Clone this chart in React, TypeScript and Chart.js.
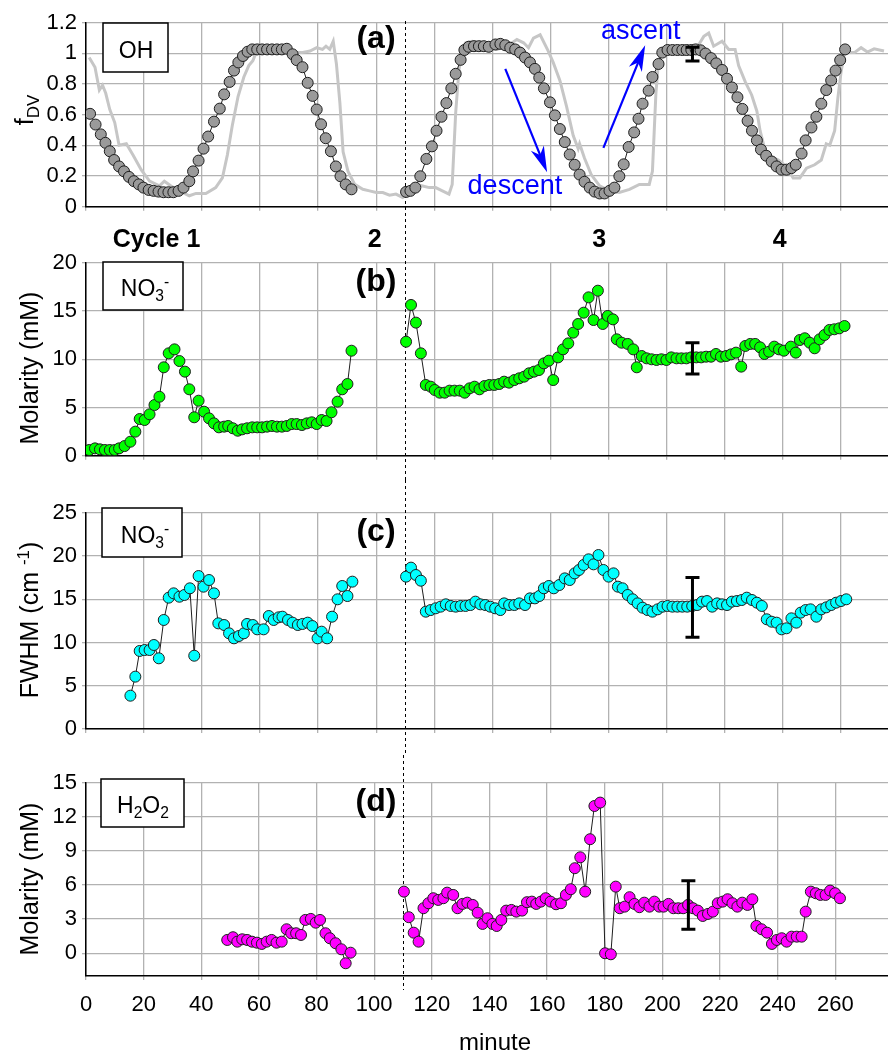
import React, { useEffect, useRef } from 'react';
import { Chart, registerables } from 'chart.js';

Chart.register(...registerables);

// ---------------- DATA ----------------
// (a) OH f_DV, cycle 1
const ohTime1 = [1.4, 3.3, 5.1, 6.7, 8.2, 9.7, 11.4, 13.1, 14.8, 16.5, 18.2, 19.8, 21.6, 23.3, 25.0, 26.7, 28.4, 30.1, 31.9, 33.6, 35.6, 36.9, 38.8, 40.5, 42.1, 44.1, 46.1, 47.6, 49.5, 51.0, 52.5, 54.1, 55.7, 57.3, 59.0, 60.7, 62.4, 64.1, 65.8, 67.5, 69.2, 71.2, 72.6, 74.6, 76.4, 78.1, 79.5, 81.0, 82.6, 84.4, 86.1, 87.7, 89.5, 91.5];
const ohFdv1 = [0.606, 0.536, 0.472, 0.417, 0.362, 0.305, 0.263, 0.231, 0.195, 0.167, 0.146, 0.125, 0.110, 0.104, 0.099, 0.095, 0.095, 0.095, 0.104, 0.125, 0.167, 0.231, 0.301, 0.379, 0.458, 0.555, 0.640, 0.733, 0.814, 0.888, 0.941, 0.983, 1.011, 1.026, 1.026, 1.026, 1.026, 1.026, 1.026, 1.026, 1.03, 0.994, 0.956, 0.910, 0.808, 0.723, 0.634, 0.538, 0.447, 0.362, 0.263, 0.199, 0.146, 0.114];
// (a) OH f_DV, cycles 2-4
const ohTime2 = [110.3, 111.8, 113.5, 115.2, 117.3, 119.2, 120.8, 122.5, 124.2, 125.9, 127.4, 129.1, 130.4, 131.9, 133.7, 135.4, 137.1, 138.8, 141.1, 142.8, 144.5, 146.2, 147.9, 149.6, 151.3, 153.0, 154.7, 156.2, 157.8, 159.9, 161.6, 163.3, 165.0, 166.7, 168.4, 170.1, 171.8, 173.6, 175.3, 177.0, 178.7, 180.4, 182.1, 183.8, 185.3, 187.0, 188.9, 190.4, 191.8, 193.9, 195.2, 197.3, 198.6, 200.4, 202.1, 203.8, 205.5, 207.0, 208.6, 210.1, 211.8, 213.5, 215.4, 217.2, 219.2, 220.9, 222.6, 224.5, 226.2, 228.0, 229.5, 231.2, 232.6, 234.4, 236.3, 238.0, 239.7, 241.4, 243.1, 244.6, 246.6, 248.0, 250.0, 251.7, 253.4, 255.1, 256.8, 258.3, 259.9, 261.6];
const ohFdv2 = [0.097, 0.104, 0.125, 0.199, 0.312, 0.394, 0.496, 0.587, 0.676, 0.772, 0.867, 0.958, 1.022, 1.043, 1.047, 1.047, 1.047, 1.043, 1.058, 1.062, 1.053, 1.037, 1.026, 1.005, 0.973, 0.941, 0.899, 0.842, 0.772, 0.681, 0.596, 0.507, 0.422, 0.341, 0.274, 0.210, 0.163, 0.125, 0.099, 0.087, 0.087, 0.104, 0.125, 0.199, 0.277, 0.390, 0.485, 0.574, 0.672, 0.757, 0.846, 0.931, 1.005, 1.022, 1.022, 1.022, 1.022, 1.022, 1.022, 1.026, 1.020, 0.999, 0.969, 0.935, 0.892, 0.835, 0.778, 0.714, 0.638, 0.560, 0.496, 0.433, 0.373, 0.333, 0.295, 0.263, 0.242, 0.242, 0.252, 0.274, 0.347, 0.433, 0.517, 0.587, 0.672, 0.761, 0.824, 0.888, 0.956, 1.026];
// (a) light grey reference trace
const refTime = [1.1, 3.1, 4.6, 5.7, 6.8, 8.2, 9.9, 11.4, 13.9, 16.2, 19.0, 21.9, 25.3, 27.0, 29.3, 32.2, 35.6, 37.9, 41.3, 44.7, 47.0, 48.7, 50.4, 52.4, 54.4, 56.1, 57.5, 58.4, 60.1, 64.0, 68.0, 70.9, 74.3, 77.2, 79.5, 81.5, 82.7, 84.0, 85.2, 86.3, 87.5, 88.6, 90.3, 92.6, 95.4, 97.7, 100.0, 102.3, 104.6, 106.8, 109.1, 111.4, 113.7, 116.0, 118.3, 120.5, 122.8, 125.1, 126.2, 127.4, 128.5, 129.7, 130.8, 133.1, 135.4, 138.0, 141.6, 145.1, 148.5, 150.8, 152.5, 154.2, 156.5, 159.3, 161.0, 163.3, 165.6, 167.9, 169.6, 170.1, 171.8, 174.1, 177.0, 180.4, 183.8, 187.3, 190.7, 194.1, 195.2, 195.8, 196.4, 197.3, 198.6, 200.4, 203.2, 205.5, 208.0, 210.1, 211.2, 212.9, 214.6, 216.3, 219.2, 221.5, 223.7, 224.9, 227.2, 229.4, 231.2, 232.3, 234.0, 236.3, 238.6, 241.4, 243.7, 246.0, 248.3, 251.1, 253.4, 255.1, 256.3, 258.0, 259.1, 260.2, 261.4, 264.8, 267.1, 269.3, 271.6, 275.0];
const refFdv = [0.973, 0.910, 0.761, 0.793, 0.740, 0.634, 0.549, 0.401, 0.411, 0.337, 0.242, 0.167, 0.136, 0.167, 0.136, 0.104, 0.072, 0.087, 0.087, 0.125, 0.188, 0.337, 0.528, 0.719, 0.846, 0.920, 0.952, 0.994, 1.005, 1.01, 1.005, 1.005, 1.005, 1.015, 1.037, 1.026, 1.047, 1.026, 1.079, 0.931, 0.676, 0.358, 0.231, 0.146, 0.114, 0.104, 0.093, 0.093, 0.076, 0.083, 0.061, 0.093, 0.146, 0.136, 0.125, 0.125, 0.104, 0.083, 0.146, 0.613, 0.888, 1.037, 1.069, 1.079, 1.069, 1.04, 1.026, 1.047, 1.090, 1.069, 1.037, 1.100, 1.121, 1.015, 0.941, 0.824, 0.655, 0.464, 0.379, 0.411, 0.316, 0.210, 0.136, 0.104, 0.093, 0.114, 0.146, 0.146, 0.231, 0.485, 0.740, 0.952, 1.026, 1.026, 1.047, 1.026, 1.03, 1.026, 1.058, 1.111, 1.132, 1.047, 1.079, 1.026, 1.026, 0.920, 0.814, 0.729, 0.623, 0.496, 0.369, 0.326, 0.305, 0.263, 0.188, 0.188, 0.252, 0.274, 0.305, 0.411, 0.401, 0.496, 0.708, 0.878, 1.005, 1.005, 1.037, 1.009, 1.030, 1.015];

// (b) NO3- molarity (mM)
const no3Time1 = [1.1, 3.1, 4.8, 6.5, 8.2, 9.9, 11.4, 13.3, 15.3, 17.0, 18.5, 20.2, 21.9, 23.6, 25.3, 26.8, 28.5, 30.5, 32.2, 34.1, 35.6, 37.3, 38.8, 40.7, 42.4, 44.1, 45.8, 47.6, 49.0, 50.6, 52.3, 53.8, 55.5, 57.3, 59.0, 60.7, 62.4, 64.1, 65.8, 67.5, 69.2, 70.9, 72.6, 74.4, 76.1, 77.8, 79.5, 81.2, 82.9, 84.6, 86.7, 88.3, 90.1, 91.5];
const no3Conc1 = [0.59, 0.76, 0.66, 0.59, 0.59, 0.59, 0.76, 1.0, 1.45, 2.49, 3.80, 3.70, 4.29, 5.25, 6.11, 9.16, 10.61, 11.02, 9.81, 8.71, 6.88, 3.98, 5.70, 4.56, 3.87, 3.35, 2.94, 3.01, 3.08, 2.84, 2.59, 2.73, 2.84, 2.94, 2.94, 2.94, 3.01, 3.08, 3.01, 3.01, 3.08, 3.28, 3.28, 3.18, 3.35, 3.46, 3.28, 3.70, 3.60, 4.50, 5.60, 6.88, 7.43, 10.88];
const no3Time2 = [110.3, 112.0, 113.7, 115.4, 117.1, 118.8, 120.2, 121.9, 123.6, 125.3, 127.0, 128.8, 130.5, 132.2, 133.9, 135.6, 137.3, 139.0, 140.7, 142.4, 144.1, 145.8, 147.6, 149.3, 151.0, 152.7, 154.4, 156.1, 157.8, 159.5, 161.0, 162.7, 164.4, 166.2, 167.9, 169.6, 171.5, 173.2, 174.9, 176.4, 178.1, 179.8, 181.6, 182.9, 184.6, 186.7, 188.6, 189.8, 191.5, 193.2, 194.9, 196.6, 198.3, 200.0, 201.7, 203.5, 205.2, 206.9, 208.6, 210.3, 212.0, 213.7, 215.4, 217.1, 218.8, 220.6, 222.3, 224.0, 225.8, 227.2, 228.9, 230.6, 232.3, 233.8, 235.4, 237.2, 238.8, 240.5, 242.9, 244.6, 246.0, 247.7, 249.4, 251.1, 252.8, 254.5, 256.2, 257.9, 259.6, 261.4];
const no3Conc2 = [11.81, 15.62, 13.79, 10.61, 7.33, 7.15, 6.81, 6.53, 6.53, 6.74, 6.74, 6.74, 6.53, 6.98, 7.15, 6.88, 7.22, 7.33, 7.33, 7.43, 7.67, 7.57, 7.84, 8.02, 8.19, 8.54, 8.71, 8.88, 9.57, 9.85, 7.84, 10.19, 11.02, 11.64, 12.75, 13.65, 14.82, 16.41, 14.06, 17.10, 13.65, 14.48, 14.13, 12.06, 11.71, 11.58, 11.02, 9.16, 10.33, 10.09, 9.99, 9.92, 9.99, 9.92, 10.19, 10.09, 10.09, 10.09, 10.19, 10.19, 10.19, 10.26, 10.26, 10.54, 10.26, 10.33, 10.50, 10.68, 9.23, 11.37, 11.58, 11.58, 11.23, 10.54, 10.78, 11.30, 11.02, 10.88, 11.30, 10.68, 11.99, 12.17, 11.71, 11.13, 12.06, 12.51, 13.03, 13.10, 13.20, 13.44];

// (c) NO3- FWHM (cm-1)
const fwhmTime1 = [15.3, 17.0, 18.5, 20.2, 21.9, 23.4, 25.1, 26.8, 28.5, 30.2, 32.2, 33.9, 35.8, 37.3, 38.8, 40.5, 42.4, 44.1, 45.6, 47.6, 49.3, 51.0, 52.7, 54.4, 55.5, 57.5, 59.0, 61.2, 63.0, 64.7, 66.4, 67.7, 69.6, 71.2, 73.0, 74.6, 76.4, 78.0, 79.8, 81.2, 83.1, 84.8, 86.7, 88.3, 90.1, 91.8];
const fwhm1 = [3.85, 6.05, 9.02, 9.13, 9.13, 9.71, 8.17, 12.60, 15.18, 15.68, 15.29, 15.49, 16.26, 8.47, 17.68, 16.45, 17.22, 15.68, 12.21, 12.02, 11.06, 10.48, 10.75, 11.06, 12.14, 12.02, 11.52, 11.52, 13.06, 12.60, 12.91, 12.98, 12.60, 12.29, 12.02, 12.14, 12.29, 11.90, 10.48, 11.25, 10.48, 12.98, 14.99, 16.53, 15.37, 17.03];
const fwhmTime2 = [110.3, 112.0, 113.7, 115.4, 117.1, 118.8, 120.5, 122.2, 124.0, 125.7, 127.4, 129.1, 130.8, 132.5, 134.2, 135.9, 137.6, 139.3, 141.0, 142.8, 144.1, 145.8, 147.6, 149.3, 151.3, 153.0, 154.7, 156.2, 157.8, 159.5, 161.2, 163.1, 165.0, 166.7, 168.4, 169.9, 171.5, 173.2, 174.9, 176.6, 178.3, 180.1, 181.8, 183.3, 184.9, 186.7, 188.4, 190.1, 191.8, 193.5, 195.2, 197.0, 198.7, 200.4, 202.1, 203.8, 205.5, 207.2, 208.9, 210.6, 212.3, 214.0, 215.8, 217.5, 219.2, 220.9, 222.6, 224.3, 226.0, 227.7, 229.5, 231.2, 232.9, 234.6, 236.3, 238.0, 239.7, 241.4, 243.1, 244.8, 246.3, 248.0, 249.7, 251.7, 253.4, 255.1, 256.8, 258.5, 260.2, 262.0];
const fwhm2 = [17.61, 18.65, 17.80, 17.14, 13.56, 13.75, 13.95, 14.14, 14.41, 14.22, 14.14, 14.22, 14.22, 14.33, 14.72, 14.41, 14.33, 14.14, 13.95, 13.75, 14.52, 14.33, 14.33, 14.52, 14.33, 15.10, 15.10, 15.37, 16.26, 16.53, 16.26, 16.64, 17.41, 17.22, 17.99, 18.38, 18.96, 19.61, 19.03, 20.11, 18.38, 17.61, 17.99, 16.45, 16.26, 15.49, 14.99, 14.52, 14.02, 13.75, 13.56, 13.83, 14.14, 14.22, 14.14, 14.14, 14.14, 14.14, 14.22, 14.33, 14.72, 14.79, 14.14, 14.52, 14.41, 14.33, 14.72, 14.79, 14.91, 15.18, 14.91, 14.60, 14.22, 12.68, 12.40, 12.29, 11.52, 11.64, 12.79, 12.29, 13.45, 13.75, 13.83, 12.98, 13.83, 14.06, 14.33, 14.60, 14.79, 14.99];

// (d) H2O2 molarity (mM)
const h2o2Time1 = [49.0, 51.0, 52.5, 54.2, 55.9, 57.6, 59.3, 61.0, 62.7, 64.4, 66.1, 67.9, 69.6, 71.2, 72.9, 74.6, 76.1, 78.0, 79.7, 81.2, 83.1, 84.6, 86.6, 88.6, 90.1, 91.8];
const h2o2Conc1 = [1.17, 1.41, 1.02, 1.23, 1.17, 1.02, 0.93, 0.82, 1.02, 1.17, 0.93, 1.02, 2.11, 1.76, 1.76, 1.61, 2.93, 3.02, 2.69, 2.93, 1.76, 1.32, 0.88, 0.35, -0.88, 0.05];
const h2o2Time2 = [110.3, 112.0, 113.7, 115.4, 117.1, 118.8, 120.5, 122.2, 124.0, 125.3, 127.4, 128.9, 130.6, 132.3, 134.2, 135.9, 137.6, 139.3, 141.0, 142.5, 144.1, 145.8, 147.6, 149.3, 151.3, 153.0, 154.7, 156.2, 157.8, 159.5, 161.2, 163.1, 164.8, 166.5, 168.2, 169.6, 171.5, 173.2, 174.9, 176.4, 178.4, 180.1, 182.1, 183.8, 185.2, 186.9, 188.6, 190.3, 192.0, 193.7, 195.5, 197.2, 198.9, 200.4, 202.1, 203.8, 205.5, 207.2, 208.9, 210.6, 212.3, 214.0, 215.8, 217.5, 219.2, 220.9, 222.6, 224.3, 226.0, 227.7, 229.5, 231.2, 232.6, 234.4, 236.3, 238.0, 239.7, 241.4, 243.1, 244.8, 246.6, 248.3, 249.7, 251.5, 253.2, 254.8, 256.6, 258.2, 259.9, 261.6];
const h2o2Conc2 = [5.42, 3.17, 1.81, 1.02, 3.96, 4.40, 4.84, 4.69, 4.84, 5.33, 5.13, 3.96, 4.34, 4.45, 4.25, 3.57, 2.58, 3.08, 2.58, 2.40, 2.93, 3.75, 3.81, 3.66, 3.75, 4.49, 4.54, 4.34, 4.54, 4.84, 4.54, 4.31, 4.40, 5.13, 5.63, 7.48, 8.44, 5.42, 10.03, 12.95, 13.25, 0.0, -0.09, 5.86, 3.96, 4.10, 4.93, 4.34, 4.05, 4.45, 4.10, 4.54, 4.10, 4.10, 4.34, 3.96, 3.96, 3.96, 4.25, 3.96, 3.75, 3.28, 3.46, 3.66, 4.40, 4.54, 4.75, 4.40, 4.10, 4.45, 4.25, 4.75, 2.40, 2.11, 1.81, 0.82, 1.17, 1.32, 1.02, 1.46, 1.46, 1.46, 3.66, 5.42, 5.28, 5.13, 5.13, 5.51, 5.28, 4.84];

// error bars (a, b, c, d)
const errTime = [209, 209, 209, 209];
const errLow = [0.95, 8.47, 10.6, 2.11];
const errHigh = [1.04, 11.7, 17.5, 6.38];

// cycle labels
const cycleLabels = ['Cycle 1', '2', '3', '4'];
const cycleTime = [24.3, 99.5, 176.9, 239.1];

const dividerTime = 110;
const xTickMax = 260;

// ---------------- STYLE / LAYOUT ----------------
const FONT = "'Liberation Sans', Arial, Helvetica, sans-serif";
Chart.defaults.font.family = FONT;
Chart.defaults.color = '#000';

const CANVAS_W = 905;
const X_MAX = 280;
const Y_AXIS_W = 86;
const PLOT_W = 818.5;
const GRID = '#b2b2b2';

type Seg = { t: string; s?: 'sub' | 'sup' };

interface Panel {
  top: number; height: number; padTop: number; xAxisH: number;
  yMin: number; yMax: number; yStep: number; yTicks?: number[];
  datasets: any[];
  title: Seg[]; titleY: number; titleX: number;
  box: [number, number, number, number]; boxText: Seg[]; boxTextX: number; boxTextY: number;
  letter: string; letterY: number;
  errIdx: number;
  showX: boolean;
  extra?: (chart: any, p: Panel) => void;
}

const xy = (xs: number[], ys: number[]) => xs.map((x, i) => ({ x, y: ys[i] }));

function dotSet(xs: number[], ys: number[], fill: string) {
  return {
    data: xy(xs, ys),
    borderColor: '#1e1e1e',
    borderWidth: 1,
    pointRadius: 5.5,
    pointBackgroundColor: fill,
    pointBorderColor: '#1e1e1e',
    pointBorderWidth: 1,
    tension: 0,
    order: 1,
  };
}

function drawRich(ctx: CanvasRenderingContext2D, segs: Seg[], x: number, y: number, size: number, bold = false) {
  const parts = segs.map((s) => {
    const fs = s.s ? size * 0.68 : size;
    ctx.font = `${bold ? 'bold ' : ''}${fs}px ${FONT}`;
    return { ...s, fs, w: ctx.measureText(s.t).width };
  });
  const total = parts.reduce((a, p) => a + p.w, 0);
  let cx = x - total / 2;
  ctx.textAlign = 'left';
  ctx.textBaseline = 'alphabetic';
  for (const p of parts) {
    ctx.font = `${bold ? 'bold ' : ''}${p.fs}px ${FONT}`;
    const dy = p.s === 'sub' ? size * 0.22 : p.s === 'sup' ? -size * 0.38 : 0;
    ctx.fillText(p.t, cx, y + dy);
    cx += p.w;
  }
}

function arrow(ctx: CanvasRenderingContext2D, x1: number, y1: number, x2: number, y2: number) {
  const a = Math.atan2(y2 - y1, x2 - x1);
  const L = 26, W = 7;
  const c = Math.cos(a), s = Math.sin(a);
  ctx.save();
  ctx.strokeStyle = '#0000ff';
  ctx.fillStyle = '#0000ff';
  ctx.lineWidth = 2.2;
  ctx.beginPath();
  ctx.moveTo(x1, y1);
  ctx.lineTo(x2 - c * L * 0.7, y2 - s * L * 0.7);
  ctx.stroke();
  const bx = x2 - c * L, by = y2 - s * L;
  ctx.beginPath();
  ctx.moveTo(x2, y2);
  ctx.lineTo(bx - s * W, by + c * W);
  ctx.lineTo(x2 - c * L * 0.72, y2 - s * L * 0.72);
  ctx.lineTo(bx + s * W, by - c * W);
  ctx.closePath();
  ctx.fill();
  ctx.restore();
}

function decorPlugin(p: Panel) {
  return {
    id: 'decor',
    beforeDatasetsDraw(chart: any) {
      const ctx = chart.ctx as CanvasRenderingContext2D;
      const x = Math.round(chart.scales.x.getPixelForValue(dividerTime)) + 0.5;
      const y0 = Math.max(0, 21 - p.top);
      const y1 = Math.min(chart.height, 990 - p.top);
      ctx.save();
      ctx.setLineDash([3, 3]);
      ctx.strokeStyle = '#000';
      ctx.lineWidth = 1;
      ctx.beginPath();
      ctx.moveTo(x, y0);
      ctx.lineTo(x, y1);
      ctx.stroke();
      ctx.restore();
    },
    afterDatasetsDraw(chart: any) {
      const ctx = chart.ctx as CanvasRenderingContext2D;
      const xs = chart.scales.x, ys = chart.scales.y;
      const i = p.errIdx;
      const ex = xs.getPixelForValue(errTime[i]);
      const eLo = ys.getPixelForValue(errLow[i]);
      const eHi = ys.getPixelForValue(errHigh[i]);
      ctx.save();
      ctx.strokeStyle = '#000';
      ctx.lineWidth = 3;
      ctx.beginPath();
      ctx.moveTo(ex, eLo); ctx.lineTo(ex, eHi);
      ctx.moveTo(ex - 7, eLo); ctx.lineTo(ex + 7, eLo);
      ctx.moveTo(ex - 7, eHi); ctx.lineTo(ex + 7, eHi);
      ctx.stroke();
      ctx.restore();
    },
    afterDraw(chart: any) {
      const ctx = chart.ctx as CanvasRenderingContext2D;
      const T = p.top;
      ctx.save();
      // label box
      const [bx, by, bw, bh] = p.box;
      ctx.fillStyle = '#fff';
      ctx.fillRect(bx, by - T, bw, bh);
      ctx.strokeStyle = '#000';
      ctx.lineWidth = 1.5;
      ctx.strokeRect(bx, by - T, bw, bh);
      ctx.fillStyle = '#000';
      drawRich(ctx, p.boxText, p.boxTextX, p.boxTextY - T, 23);
      // panel letter
      drawRich(ctx, [{ t: p.letter }], 376, p.letterY - T, 32, true);
      // y title (rotated)
      ctx.save();
      ctx.translate(p.titleX, p.titleY - T);
      ctx.rotate(-Math.PI / 2);
      drawRich(ctx, p.title, 0, 0, 25);
      ctx.restore();
      if (p.extra) p.extra(chart, p);
      ctx.restore();
    },
  };
}

function buildConfig(p: Panel): any {
  const yScale: any = {
    type: 'linear',
    min: p.yMin,
    max: p.yMax,
    ticks: {
      stepSize: p.yStep,
      color: '#000',
      font: { size: 22, family: FONT },
      padding: 5,
      callback: (v: number) => String(Number(v.toFixed(2))),
    },
    grid: { color: GRID, lineWidth: 1.3, tickLength: 4, drawTicks: true },
    border: { display: true, color: '#000', width: 1.5 },
    afterFit: (s: any) => { s.width = Y_AXIS_W; },
  };
  if (p.yTicks) {
    const vals = p.yTicks;
    yScale.afterBuildTicks = (s: any) => { s.ticks = vals.map((v) => ({ value: v })); };
  }
  return {
    type: 'line',
    data: { datasets: p.datasets },
    options: {
      responsive: false,
      maintainAspectRatio: false,
      animation: false,
      events: [],
      layout: { padding: { top: p.padTop, bottom: 0, left: 0, right: CANVAS_W - Y_AXIS_W - PLOT_W } },
      plugins: { legend: { display: false }, tooltip: { enabled: false } },
      scales: {
        x: {
          type: 'linear',
          min: 0,
          max: X_MAX,
          ticks: {
            stepSize: 20,
            display: p.showX,
            autoSkip: false,
            maxRotation: 0,
            padding: 12,
            color: '#000',
            font: { size: 22, family: FONT },
            callback: (v: number) => (v > xTickMax ? '' : String(v)),
          },
          grid: { color: GRID, lineWidth: 1.3, tickLength: 4, drawTicks: true },
          border: { display: true, color: '#000', width: 1.5 },
          afterFit: (s: any) => { s.height = p.xAxisH; },
        },
        y: yScale,
      },
    },
    plugins: [decorPlugin(p)],
  };
}

const NO3: Seg[] = [{ t: 'NO' }, { t: '3', s: 'sub' }, { t: '-', s: 'sup' }];

const panels: Panel[] = [
  {
    top: 0, height: 225, padTop: 22.7, xAxisH: 13.7,
    yMin: 0, yMax: 1.2, yStep: 0.2,
    datasets: [
      dotSet(ohTime1, ohFdv1, '#9a9a9a'),
      dotSet(ohTime2, ohFdv2, '#9a9a9a'),
      { data: xy(refTime, refFdv), borderColor: '#c6c6c6', borderWidth: 3, pointRadius: 0, tension: 0, order: 2 },
    ],
    title: [{ t: 'f' }, { t: 'DV', s: 'sub' }], titleY: 110, titleX: 33,
    box: [103, 23, 65, 49], boxText: [{ t: 'OH' }], boxTextX: 136, boxTextY: 58,
    letter: '(a)', letterY: 48, errIdx: 0, showX: false,
    extra: (chart: any) => {
      const ctx = chart.ctx as CanvasRenderingContext2D;
      const xs = chart.scales.x, ys = chart.scales.y;
      const X = (v: number) => xs.getPixelForValue(v);
      const Y = (v: number) => ys.getPixelForValue(v);
      arrow(ctx, X(144.5), Y(0.899), X(158.9), Y(0.225));
      arrow(ctx, X(178.3), Y(0.384), X(192.7), Y(1.053));
      ctx.fillStyle = '#0000ff';
      drawRich(ctx, [{ t: 'descent' }], X(147.8), Y(0.085), 27);
      drawRich(ctx, [{ t: 'ascent' }], X(191.2), Y(1.093), 27);
    },
  },
  {
    top: 225, height: 255, padTop: 37.7, xAxisH: 24.3,
    yMin: 0, yMax: 20, yStep: 5,
    datasets: [dotSet(no3Time1, no3Conc1, '#00ff00'), dotSet(no3Time2, no3Conc2, '#00ff00')],
    title: [{ t: 'Molarity (mM)' }], titleY: 368, titleX: 38,
    box: [103, 262, 80, 48], boxText: NO3, boxTextX: 145, boxTextY: 296,
    letter: '(b)', letterY: 291, errIdx: 1, showX: false,
    extra: (chart: any, p: Panel) => {
      const ctx = chart.ctx as CanvasRenderingContext2D;
      const xs = chart.scales.x;
      ctx.fillStyle = '#000';
      cycleLabels.forEach((lab, i) => {
        drawRich(ctx, [{ t: lab }], xs.getPixelForValue(cycleTime[i]), 247 - p.top, 25, true);
      });
    },
  },
  {
    top: 480, height: 275, padTop: 32.7, xAxisH: 26,
    yMin: 0, yMax: 25, yStep: 5,
    datasets: [dotSet(fwhmTime1, fwhm1, '#00ffff'), dotSet(fwhmTime2, fwhm2, '#00ffff')],
    title: [{ t: 'FWHM (cm ' }, { t: '-1', s: 'sup' }, { t: ')' }], titleY: 620, titleX: 38,
    box: [102, 508, 80, 49], boxText: NO3, boxTextX: 145, boxTextY: 543,
    letter: '(c)', letterY: 541, errIdx: 2, showX: false,
  },
  {
    top: 755, height: 298, padTop: 27.7, xAxisH: 77,
    yMin: -2, yMax: 15, yStep: 3, yTicks: [0, 3, 6, 9, 12, 15],
    datasets: [dotSet(h2o2Time1, h2o2Conc1, '#ff00ff'), dotSet(h2o2Time2, h2o2Conc2, '#ff00ff')],
    title: [{ t: 'Molarity (mM)' }], titleY: 879, titleX: 38,
    box: [101, 779, 83, 48], boxText: [{ t: 'H' }, { t: '2', s: 'sub' }, { t: 'O' }, { t: '2', s: 'sub' }], boxTextX: 143, boxTextY: 813,
    letter: '(d)', letterY: 811, errIdx: 3, showX: true,
    extra: (chart: any, p: Panel) => {
      const ctx = chart.ctx as CanvasRenderingContext2D;
      ctx.fillStyle = '#000';
      drawRich(ctx, [{ t: 'minute' }], 495, 1050 - p.top, 24);
    },
  },
];

function PanelCanvas({ p }: { p: Panel }) {
  const ref = useRef<HTMLCanvasElement>(null);
  useEffect(() => {
    const chart = new Chart(ref.current as HTMLCanvasElement, buildConfig(p));
    return () => chart.destroy();
  }, [p]);
  return (
    <canvas
      ref={ref}
      width={CANVAS_W}
      height={p.height}
      style={{ position: 'absolute', left: 0, top: p.top, width: CANVAS_W, height: p.height }}
    />
  );
}

export default function App() {
  return (
    <div
      style={{
        position: 'absolute', left: 0, top: 0, width: 888, height: 1053,
        overflow: 'hidden', background: '#fff',
      }}
    >
      {panels.map((p, i) => (
        <PanelCanvas key={i} p={p} />
      ))}
    </div>
  );
}
